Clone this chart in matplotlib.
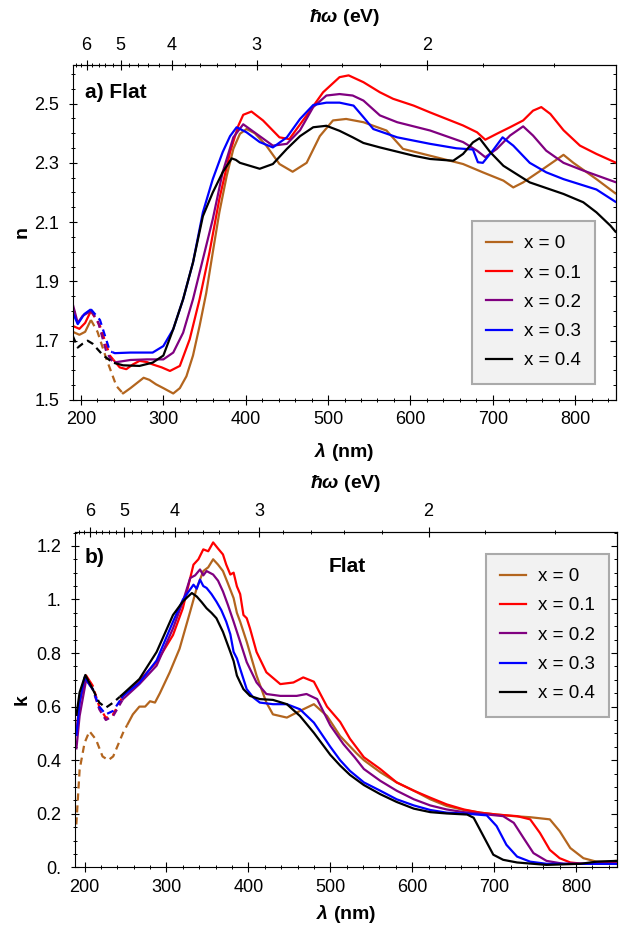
import numpy as np
import matplotlib
matplotlib.use("Agg")
import matplotlib.pyplot as plt
from matplotlib.lines import Line2D

plt.rcParams['font.family'] = ['Liberation Sans', 'DejaVu Sans']
plt.rcParams['mathtext.fontset'] = 'custom'
plt.rcParams['mathtext.bfit'] = 'Liberation Sans:italic:bold'
plt.rcParams['mathtext.it'] = 'Liberation Sans:italic'
plt.rcParams['mathtext.bf'] = 'Liberation Sans:bold'
plt.rcParams['mathtext.rm'] = 'Liberation Sans'

labels = ["x = 0", "x = 0.1", "x = 0.2", "x = 0.3", "x = 0.4"]
colors = ["#B3651E", "#FF0000", "#800080", "#0000FF", "#000000"]

# ---- panel a: refractive index n ----
n_lam0 = [190, 198, 205, 212, 220, 231, 243, 251, 260, 271, 276, 283, 291, 300, 312, 320, 328, 336, 344, 352,
          360, 368, 377, 385, 393, 401, 411, 425, 441, 457, 474, 490, 506, 522, 543, 571, 591, 624, 664, 688,
          713, 725, 737, 761, 786, 798, 826, 850]
n_x0 = [1.73, 1.72, 1.73, 1.77, 1.73, 1.637, 1.547, 1.522, 1.54, 1.564, 1.575, 1.568, 1.553, 1.54, 1.522, 1.54,
        1.58, 1.65, 1.75, 1.86, 1.998, 2.133, 2.257, 2.347, 2.398, 2.414, 2.40, 2.358, 2.296, 2.27, 2.30, 2.39,
        2.443, 2.448, 2.437, 2.409, 2.347, 2.324, 2.296, 2.268, 2.24, 2.217, 2.234, 2.279, 2.327, 2.30, 2.245, 2.195]

n_lam1 = [190, 198, 205, 212, 223, 235, 247, 255, 263, 271, 280, 287, 298, 308, 320, 332, 344, 356, 368, 381,
          391, 397, 407, 421, 441, 453, 474, 494, 514, 525, 543, 563, 579, 604, 624, 644, 664, 681, 691, 705,
          721, 737, 749, 759, 770, 786, 806, 826, 850]
n_x1 = [1.75, 1.74, 1.76, 1.80, 1.75, 1.65, 1.61, 1.604, 1.62, 1.632, 1.628, 1.62, 1.61, 1.598, 1.615, 1.705,
        1.84, 1.998, 2.178, 2.336, 2.425, 2.462, 2.473, 2.443, 2.386, 2.38, 2.46, 2.538, 2.589, 2.595, 2.572,
        2.538, 2.516, 2.493, 2.47, 2.448, 2.426, 2.403, 2.378, 2.398, 2.42, 2.443, 2.476, 2.488, 2.465, 2.41,
        2.358, 2.33, 2.30]

n_lam2 = [190, 196, 202, 212, 220, 231, 239, 260, 280, 300, 312, 324, 336, 348, 360, 372, 385, 397, 405, 417,
          433, 450, 466, 482, 498, 514, 530, 543, 563, 584, 624, 664, 681, 691, 705, 721, 737, 749, 765, 786,
          810, 850]
n_x2 = [1.823, 1.76, 1.784, 1.80, 1.77, 1.66, 1.626, 1.635, 1.637, 1.637, 1.66, 1.727, 1.84, 1.975, 2.11, 2.268,
        2.386, 2.43, 2.414, 2.39, 2.358, 2.364, 2.41, 2.488, 2.527, 2.532, 2.527, 2.51, 2.46, 2.437, 2.409, 2.37,
        2.341, 2.319, 2.347, 2.392, 2.423, 2.392, 2.341, 2.30, 2.274, 2.234]

n_lam3 = [190, 196, 204, 212, 223, 235, 241, 260, 287, 300, 312, 324, 336, 348, 360, 372, 381, 389, 401, 417,
          433, 450, 466, 482, 498, 514, 531, 543, 555, 584, 624, 656, 676, 682, 688, 700, 712, 725, 745, 765,
          786, 826, 850]
n_x3 = [1.795, 1.756, 1.79, 1.806, 1.77, 1.665, 1.658, 1.66, 1.66, 1.682, 1.739, 1.84, 1.964, 2.133, 2.245,
        2.336, 2.39, 2.42, 2.403, 2.37, 2.352, 2.386, 2.448, 2.495, 2.503, 2.503, 2.493, 2.454, 2.414, 2.386,
        2.364, 2.349, 2.345, 2.302, 2.30, 2.341, 2.386, 2.358, 2.30, 2.268, 2.245, 2.21, 2.167]

n_lam4 = [190, 196, 202, 208, 214, 227, 239, 251, 271, 287, 300, 312, 324, 336, 348, 360, 372, 383, 388, 393,
          405, 417, 433, 450, 466, 482, 498, 514, 530, 543, 563, 604, 624, 652, 664, 676, 684, 697, 713, 745,
          786, 810, 826, 843, 850]
n_x4 = [1.716, 1.677, 1.69, 1.70, 1.69, 1.65, 1.626, 1.617, 1.615, 1.626, 1.65, 1.739, 1.84, 1.964, 2.12, 2.20,
        2.268, 2.315, 2.31, 2.30, 2.29, 2.28, 2.296, 2.347, 2.39, 2.42, 2.425, 2.408, 2.386, 2.367, 2.352,
        2.324, 2.313, 2.307, 2.33, 2.369, 2.383, 2.336, 2.29, 2.234, 2.195, 2.167, 2.133, 2.088, 2.065]

n_lams = [n_lam0, n_lam1, n_lam2, n_lam3, n_lam4]
n_vals = [n_x0, n_x1, n_x2, n_x3, n_x4]
n_dash = [(212, 250), (212, 239), (212, 240), (212, 238), (190, 240)]

# ---- panel b: extinction coefficient k ----
k_lam0 = [190, 194, 200, 206, 214, 222, 229, 235, 247, 259, 267, 274, 280, 286, 292, 304, 316, 329, 337, 345,
          351, 357, 363, 369, 375, 382, 386, 390, 398, 410, 422, 430, 447, 463, 480, 496, 512, 532, 541, 561,
          581, 602, 622, 642, 663, 683, 703, 724, 744, 768, 780, 793, 809, 825, 837, 850]
k_x0 = [0.16, 0.364, 0.464, 0.508, 0.477, 0.414, 0.40, 0.414, 0.502, 0.571, 0.60, 0.60, 0.62, 0.615, 0.65,
        0.728, 0.816, 0.955, 1.043, 1.106, 1.12, 1.15, 1.13, 1.106, 1.06, 1.005, 0.95, 0.917, 0.842, 0.716,
        0.615, 0.571, 0.559, 0.584, 0.609, 0.565, 0.49, 0.426, 0.40, 0.355, 0.317, 0.286, 0.254, 0.229, 0.214,
        0.204, 0.197, 0.191, 0.187, 0.179, 0.135, 0.072, 0.034, 0.021, 0.021, 0.024]

k_lam1 = [190, 194, 202, 210, 218, 226, 235, 247, 267, 288, 308, 320, 333, 339, 345, 351, 357, 363, 369, 373,
          378, 382, 386, 390, 394, 398, 402, 410, 422, 439, 455, 467, 480, 496, 512, 524, 541, 561, 581, 602,
          622, 642, 663, 683, 703, 728, 744, 756, 768, 780, 793, 809, 850]
k_x1 = [0.50, 0.615, 0.716, 0.678, 0.60, 0.558, 0.571, 0.64, 0.697, 0.766, 0.867, 0.967, 1.13, 1.15, 1.187,
        1.18, 1.213, 1.19, 1.168, 1.13, 1.093, 1.10, 1.049, 1.02, 0.942, 0.93, 0.892, 0.804, 0.728, 0.684, 0.69,
        0.709, 0.693, 0.60, 0.543, 0.48, 0.411, 0.367, 0.317, 0.286, 0.26, 0.235, 0.216, 0.204, 0.197, 0.191,
        0.179, 0.128, 0.065, 0.034, 0.018, 0.013, 0.018]

k_lam2 = [190, 194, 202, 210, 218, 226, 235, 247, 267, 288, 308, 320, 329, 335, 341, 345, 349, 357, 363, 369,
          375, 382, 390, 398, 410, 422, 439, 459, 471, 484, 500, 516, 530, 541, 561, 581, 602, 622, 642, 663,
          683, 711, 724, 736, 748, 764, 785, 850]
k_x2 = [0.44, 0.565, 0.70, 0.665, 0.59, 0.55, 0.565, 0.628, 0.684, 0.753, 0.892, 0.992, 1.08, 1.09, 1.112, 1.09,
        1.106, 1.093, 1.07, 1.03, 0.98, 0.917, 0.842, 0.766, 0.69, 0.647, 0.64, 0.64, 0.647, 0.628, 0.53, 0.46,
        0.41, 0.367, 0.323, 0.286, 0.254, 0.231, 0.216, 0.206, 0.20, 0.191, 0.166, 0.109, 0.053, 0.024, 0.013,
        0.013]

k_lam3 = [190, 194, 200, 210, 218, 226, 235, 247, 267, 288, 308, 320, 333, 337, 341, 345, 349, 355, 361, 367,
          373, 378, 382, 386, 390, 398, 406, 414, 430, 447, 463, 480, 500, 512, 524, 541, 561, 581, 602, 622,
          642, 663, 691, 703, 715, 728, 744, 764, 850]
k_x3 = [0.49, 0.615, 0.709, 0.665, 0.60, 0.571, 0.584, 0.64, 0.69, 0.772, 0.917, 0.999, 1.055, 1.04, 1.074,
        1.05, 1.043, 1.02, 0.992, 0.96, 0.917, 0.87, 0.804, 0.78, 0.741, 0.665, 0.634, 0.615, 0.609, 0.609,
        0.59, 0.54, 0.45, 0.40, 0.36, 0.317, 0.286, 0.254, 0.231, 0.214, 0.204, 0.201, 0.194, 0.154, 0.084,
        0.04, 0.021, 0.013, 0.013]

k_lam4 = [190, 194, 201, 210, 218, 226, 235, 247, 267, 288, 308, 320, 326, 331, 337, 343, 349, 355, 361, 369,
          378, 382, 386, 390, 394, 402, 414, 430, 447, 463, 480, 500, 512, 524, 541, 561, 581, 602, 622, 642,
          667, 675, 687, 699, 711, 728, 764, 805, 825, 850]
k_x4 = [0.565, 0.653, 0.718, 0.665, 0.615, 0.596, 0.615, 0.647, 0.703, 0.804, 0.942, 0.992, 1.01, 1.024, 1.011,
        0.99, 0.967, 0.95, 0.93, 0.879, 0.804, 0.77, 0.716, 0.69, 0.665, 0.64, 0.628, 0.625, 0.609, 0.565,
        0.502, 0.42, 0.38, 0.345, 0.307, 0.273, 0.244, 0.219, 0.206, 0.201, 0.197, 0.185, 0.116, 0.047, 0.028,
        0.018, 0.009, 0.013, 0.021, 0.024]

k_lams = [k_lam0, k_lam1, k_lam2, k_lam3, k_lam4]
k_vals = [k_x0, k_x1, k_x2, k_x3, k_x4]
k_dash = [(190, 252), (206, 246), (206, 246), (206, 245), (210, 243)]

n_ticks = [1.5, 1.7, 1.9, 2.1, 2.3, 2.5]
n_ticklabels = ["1.5", "1.7", "1.9", "2.1", "2.3", "2.5"]
k_ticks = [0, 0.2, 0.4, 0.6, 0.8, 1.0, 1.2]
k_ticklabels = ["0.", "0.2", "0.4", "0.6", "0.8", "1.", "1.2"]
ev_ticks = [6, 5, 4, 3, 2]


def pieces(lam, val, a, b):
    lam = np.asarray(lam, float)
    val = np.asarray(val, float)
    va, vb = np.interp([a, b], lam, val)
    s1 = lam < a
    s2 = (lam > a) & (lam < b)
    s3 = lam > b
    p1 = (np.r_[lam[s1], a], np.r_[val[s1], va])
    p2 = (np.r_[a, lam[s2], b], np.r_[va, val[s2], vb])
    p3 = (np.r_[b, lam[s3]], np.r_[vb, val[s3]])
    return p1, p2, p3


def e2l(x):
    x = np.asarray(x, float)
    with np.errstate(divide='ignore'):
        return 1239.84 / x


def setup(ax, xlim, ylim, yticks, yticklabels, yminor):
    ax.set_xlim(*xlim)
    ax.set_ylim(*ylim)
    ax.set_xticks(np.arange(200, 801, 100))
    ax.set_xticks(np.arange(200, 850, 20), minor=True)
    ax.set_yticks(yticks)
    ax.set_yticklabels(yticklabels)
    ax.set_yticks(yminor, minor=True)
    ax.tick_params(which='major', direction='inout', length=6.5, width=0.8, labelsize=13)
    ax.tick_params(axis='y', which='major', length=5.5, pad=7)
    ax.tick_params(axis='x', which='major', pad=5)
    ax.tick_params(which='minor', direction='inout', length=3.5, width=0.7)
    for s in ax.spines.values():
        s.set_linewidth(0.8)

    right = ax.secondary_yaxis('right')
    right.set_yticks(yticks)
    right.set_yticklabels([])
    right.set_yticks(yminor, minor=True)
    right.tick_params(which='major', direction='in', length=4, width=0.8)
    right.tick_params(which='minor', direction='in', length=2.5, width=0.7)
    right.spines['right'].set_linewidth(0.8)

    top = ax.secondary_xaxis('top', functions=(e2l, e2l))
    top.set_xticks(ev_ticks)
    top.set_xticklabels([str(e) for e in ev_ticks])
    minor_ev = [e for e in np.round(np.arange(1.6, 6.6, 0.2), 1) if e not in ev_ticks]
    top.set_xticks(minor_ev, minor=True)
    top.tick_params(which='major', direction='inout', length=6.5, width=0.8, labelsize=13, pad=5)
    top.tick_params(which='minor', direction='inout', length=3.5, width=0.7)
    top.spines['top'].set_linewidth(0.8)


def draw(ax, lams, vals, dashes):
    for lam, val, (a, b), c in zip(lams, vals, dashes, colors):
        p1, p2, p3 = pieces(lam, val, a, b)
        ax.plot(*p1, color=c, lw=1.6, solid_capstyle='butt')
        ax.plot(*p2, color=c, lw=1.6, linestyle=(0, (3.2, 2.2)))
        ax.plot(*p3, color=c, lw=1.6, solid_capstyle='butt')


fig = plt.figure(figsize=(6.33, 9.33), dpi=100)
ax1 = fig.add_axes([72.8 / 633, 1 - 400 / 933, 543.4 / 633, 335 / 933])
ax2 = fig.add_axes([75.1 / 633, 1 - 867.3 / 933, 541.9 / 633, 335.6 / 933])

setup(ax1, (190, 850), (1.5, 2.63), n_ticks, n_ticklabels, np.arange(1.55, 2.62, 0.05))
setup(ax2, (188.5, 850), (0, 1.253), k_ticks, k_ticklabels, np.arange(0.05, 1.26, 0.05))

draw(ax1, n_lams, n_vals, n_dash)
draw(ax2, k_lams, k_vals, k_dash)

lab_kw = dict(fontsize=14, fontweight='bold')
ax1.set_ylabel('n', **lab_kw)
ax1.yaxis.set_label_coords(-0.078, 0.5)
ax1.set_xlabel(r'$\mathbfit{\lambda}$ (nm)', **lab_kw)
ax1.xaxis.set_label_coords(0.5, -0.122)
ax1.text(0.5, 1.143, r'$\mathbfit{\hbar\omega}$ (eV)', transform=ax1.transAxes,
         ha='center', va='center', **lab_kw)
ax1.text(0.022, 0.919, 'a) Flat', transform=ax1.transAxes, ha='left', va='center',
         fontsize=15, fontweight='bold')

ax2.set_ylabel('k', **lab_kw)
ax2.yaxis.set_label_coords(-0.082, 0.5)
ax2.set_xlabel(r'$\mathbfit{\lambda}$ (nm)', **lab_kw)
ax2.xaxis.set_label_coords(0.5, -0.107)
ax2.text(0.5, 1.143, r'$\mathbfit{\hbar\omega}$ (eV)', transform=ax2.transAxes,
         ha='center', va='center', **lab_kw)
ax2.text(0.018, 0.922, 'b)', transform=ax2.transAxes, ha='left', va='center',
         fontsize=15, fontweight='bold')
ax2.text(0.503, 0.895, 'Flat', transform=ax2.transAxes, ha='center', va='center',
         fontsize=15, fontweight='bold')

handles = [Line2D([], [], color=c, lw=1.6) for c in colors]
leg_kw = dict(loc='upper left', fontsize=13.5, frameon=True, fancybox=False,
              handlelength=1.4, handletextpad=0.6, labelspacing=0.65, borderpad=0.75,
              borderaxespad=0)
for ax, anchor in [(ax1, (472 / 633, 1 - 221 / 933)), (ax2, (486 / 633, 1 - 554 / 933))]:
    leg = ax.legend(handles, labels, bbox_to_anchor=anchor, bbox_transform=fig.transFigure, **leg_kw)
    fr = leg.get_frame()
    fr.set_facecolor('#f2f2f2')
    fr.set_edgecolor('#aaaaaa')
    fr.set_linewidth(1.5)
    fr.set_alpha(1)

fig.savefig('out.png', dpi=100)
